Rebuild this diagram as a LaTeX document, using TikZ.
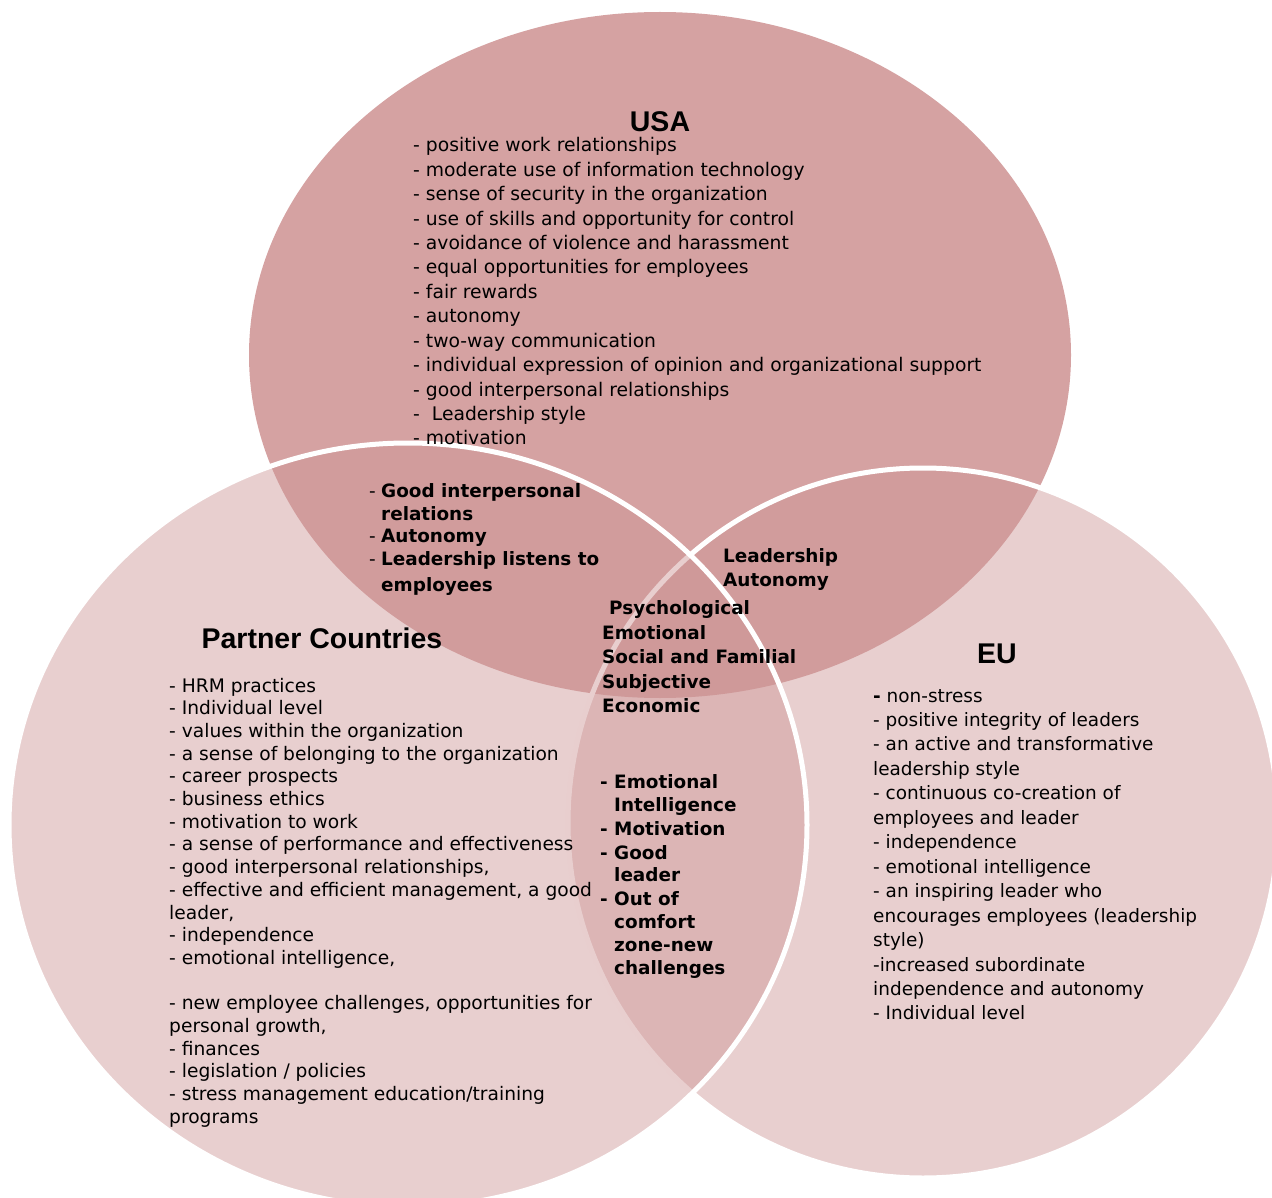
\documentclass[tikz,border=0pt]{standalone}
\usepackage{fontspec}
\setmainfont{DejaVu Sans}
\newfontfamily\headfont{Liberation Sans}
\definecolor{usafill}{RGB}{213,162,162}
\definecolor{ringfill}{RGB}{205,150,150}
\begin{document}
\begin{tikzpicture}[x=1pt,y=-1pt,
  ring/.style={fill=ringfill, fill opacity=0.46, draw=white, line width=5pt},
  heading/.style={anchor=base, inner sep=0pt, font={\headfont\fontsize{28.5}{30}\selectfont\bfseries}},
  usaitem/.style={anchor=base west, inner sep=0pt, font={\fontsize{18.75}{20}\selectfont}},
  pcitem/.style={anchor=base west, inner sep=0pt, font={\fontsize{18.65}{20}\selectfont}},
  euitem/.style={anchor=base west, inner sep=0pt, font={\fontsize{18.45}{20}\selectfont}},
  keyitem/.style={anchor=base west, inner sep=0pt, font={\fontsize{18.4}{20}\selectfont\bfseries}},
  dashmark/.style={anchor=base west, inner sep=0pt, font={\fontsize{18.4}{20}\selectfont}}]

\useasboundingbox (0,0) rectangle (1272,1198);

% the three sets
\begin{scope}
  \clip (0,0) rectangle (1272,1198);
  \fill[usafill] (660,355) ellipse [x radius=411pt, y radius=343pt];
  \path[ring] (923,823) ellipse [x radius=355pt, y radius=355pt];
  \path[ring] (408,825) ellipse [x radius=399pt, y radius=382pt];
\end{scope}

% headings
\node[heading] (usaT) at (660,132) {USA};
\node[heading] (pcT) at (322,648) {Partner Countries};
\node[heading] (euT) at (997,663) {EU};

% USA list
\foreach \t [count=\i from 0] in {
  - positive work relationships,
  - moderate use of information technology,
  - sense of security in the organization,
  - use of skills and opportunity for control,
  - avoidance of violence and harassment,
  - equal opportunities for employees,
  - fair rewards,
  - autonomy,
  - two-way communication,
  - individual expression of opinion and organizational support,
  - good interpersonal relationships,
  -\ \ Leadership style,
  - motivation}
  \node[usaitem] (usa\i) at (413,152+24.4*\i) {\t};

% Partner Countries list
\foreach \t [count=\i from 0] in {
  - HRM practices,
  - Individual level,
  - values within the organization,
  - a sense of belonging to the organization,
  - career prospects,
  - business ethics,
  - motivation to work,
  - a sense of performance and effectiveness,
  {- good interpersonal relationships,},
  {- effective and efficient management, a good},
  {leader,},
  - independence,
  {- emotional intelligence,}}
  \node[pcitem] (pc\i) at (169,692+22.7*\i) {\t};
\foreach \t [count=\i from 14] in {
  {- new employee challenges, opportunities for},
  {personal growth,},
  - finances,
  - legislation / policies,
  - stress management education/training,
  programs}
  \node[pcitem] (pc\i) at (169,692+22.7*\i) {\t};

% EU list
\node[euitem] (eu0) at (873,702) {\textbf{-} non-stress};
\foreach \t [count=\i from 1] in {
  - positive integrity of leaders,
  - an active and transformative,
  leadership style,
  - continuous co-creation of,
  employees and leader,
  - independence,
  - emotional intelligence,
  - an inspiring leader who,
  encourages employees (leadership,
  style),
  -increased subordinate,
  independence and autonomy,
  - Individual level}
  \node[euitem] (eu\i) at (873,702+24.46*\i) {\t};

% USA and Partner Countries
\foreach \t/\y [count=\i] in {{Good interpersonal}/497, relations/520, Autonomy/542,
    {Leadership listens to}/565, employees/591}
  \node[keyitem] (up\i) at (381,\y) {\t};
\foreach \y [count=\i] in {497,542,565}
  \node[dashmark] (upd\i) at (369,\y) {-};

% USA and EU
\node[keyitem] (ue1) at (723,562) {Leadership};
\node[keyitem] (ue2) at (723,586) {Autonomy};

% all three
\node[keyitem] (all1) at (609,614) {Psychological};
\foreach \t/\y [count=\i from 2] in {Emotional/639, {Social and Familial}/663,
    Subjective/688, Economic/712}
  \node[keyitem] (all\i) at (602,\y) {\t};

% Partner Countries and EU
\foreach \t/\y [count=\i] in {Emotional/788, Intelligence/811, Motivation/835,
    Good/859, leader/881, {Out of}/905, comfort/928, zone-new/951, challenges/974}
  \node[keyitem] (pe\i) at (614,\y) {\t};
\foreach \y [count=\i] in {788,835,859,905}
  \node[keyitem] (ped\i) at (600,\y) {-};

\end{tikzpicture}
\end{document}
